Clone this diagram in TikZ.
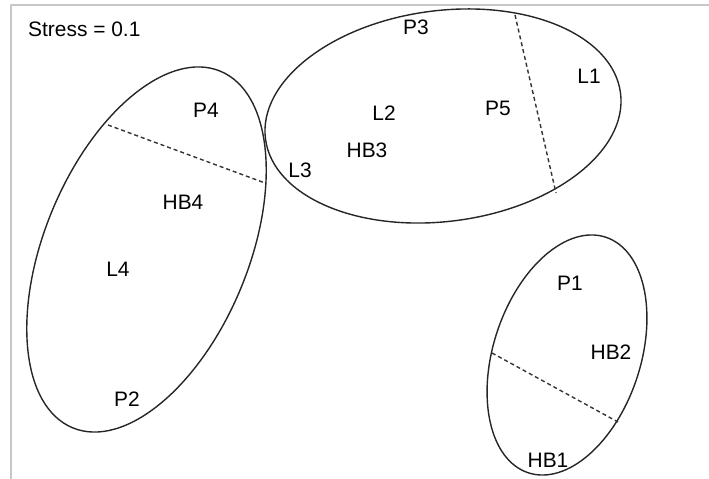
\documentclass[tikz,border=0pt]{standalone}
\usepackage{fontspec}
\setmainfont{Liberation Sans}
\begin{document}
\begin{tikzpicture}[line join=bevel,
    lbl/.style={inner sep=0pt,font=\fontsize{21}{24}\selectfont},
    grp/.style={draw=black!85,line width=1.4bp},
    cut/.style={draw=black!80,line width=1.4bp,dash pattern=on 4bp off 3bp},
    ]
    %%
    \useasboundingbox (0bp,0bp) rectangle (709bp,479bp);
    \draw [black!22,line width=1.6bp] (11.0bp,0bp) -- (11.0bp,474.0bp) -- (709bp,474.0bp);
    %%
    \node (stress) at (28.0bp,450.0bp) [lbl,anchor=west] {Stress = 0.1};
    \node (P3) at (416.0bp,452.0bp) [lbl] {P3};
    \node (L1) at (589.0bp,403.0bp) [lbl] {L1};
    \node (L2) at (384.0bp,366.0bp) [lbl] {L2};
    \node (P5) at (498.0bp,371.0bp) [lbl] {P5};
    \node (HB3) at (367.0bp,329.0bp) [lbl] {HB3};
    \node (L3) at (300.0bp,309.0bp) [lbl] {L3};
    \node (P4) at (206.0bp,369.0bp) [lbl] {P4};
    \node (HB4) at (183.0bp,277.0bp) [lbl] {HB4};
    \node (L4) at (118.0bp,210.0bp) [lbl] {L4};
    \node (P2) at (127.0bp,80.0bp) [lbl] {P2};
    \node (P1) at (570.0bp,196.0bp) [lbl] {P1};
    \node (HB2) at (611.0bp,127.0bp) [lbl] {HB2};
    \node (HB1) at (548.0bp,19.0bp) [lbl] {HB1};
    %% groups
    \draw [grp,rotate around={67.5:(146.5bp,229.5bp)}] (146.5bp,229.5bp) ellipse (193bp and 102bp);
    \draw [grp,rotate around={7.4:(443.0bp,363.0bp)}] (443.0bp,363.0bp) ellipse (179bp and 105.4bp);
    \draw [grp,rotate around={71.8:(567.0bp,124.0bp)}] (567.0bp,124.0bp) ellipse (124bp and 73.6bp);
    %% splits
    \coordinate (a1) at (108.0bp,354.0bp);
    \coordinate (a2) at (265.0bp,296.0bp);
    \coordinate (b1) at (515.0bp,464.0bp);
    \coordinate (b2) at (556.0bp,286.0bp);
    \coordinate (c1) at (492.0bp,126.0bp);
    \coordinate (c2) at (618.0bp,57.0bp);
    \draw [cut] (a1) -- (a2);
    \draw [cut] (b1) -- (b2);
    \draw [cut] (c1) -- (c2);
    %
\end{tikzpicture}
\end{document}
